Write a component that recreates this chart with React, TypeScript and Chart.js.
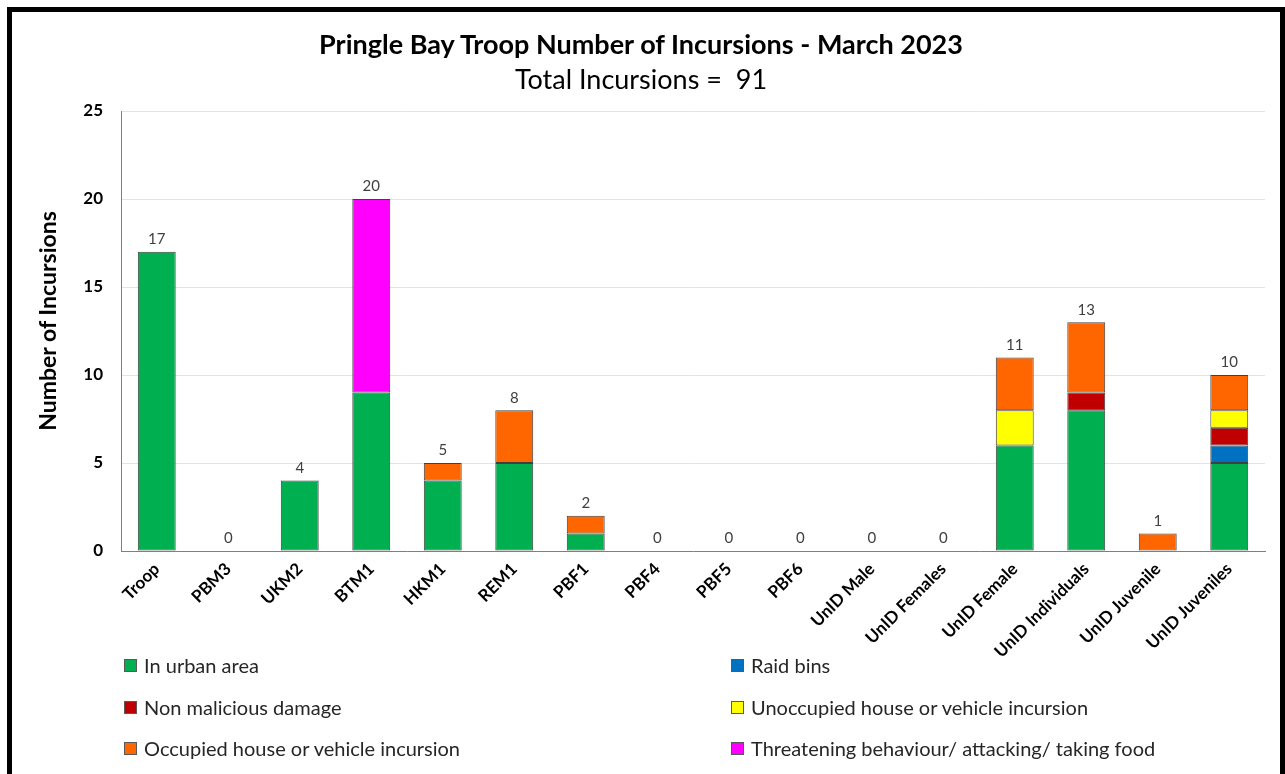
import React, { useEffect, useRef } from "react";
import { Chart, registerables } from "chart.js";

Chart.register(...registerables);

const categories = [
  "Troop", "PBM3", "UKM2", "BTM1", "HKM1", "REM1", "PBF1", "PBF4", "PBF5", "PBF6",
  "UnID Male", "UnID Females", "UnID Female", "UnID Individuals", "UnID Juvenile", "UnID Juveniles",
];
const inUrbanArea = [17, 0, 4, 9, 4, 5, 1, 0, 0, 0, 0, 0, 6, 8, 0, 5];
const raidBins = [0, 0, 0, 0, 0, 0, 0, 0, 0, 0, 0, 0, 0, 0, 0, 1];
const nonMaliciousDamage = [0, 0, 0, 0, 0, 0, 0, 0, 0, 0, 0, 0, 0, 1, 0, 1];
const unoccupiedIncursion = [0, 0, 0, 0, 0, 0, 0, 0, 0, 0, 0, 0, 2, 0, 0, 1];
const occupiedIncursion = [0, 0, 0, 0, 1, 3, 1, 0, 0, 0, 0, 0, 3, 4, 1, 2];
const threatening = [0, 0, 0, 11, 0, 0, 0, 0, 0, 0, 0, 0, 0, 0, 0, 0];

const seriesNames = [
  "In urban area",
  "Raid bins",
  "Non malicious damage",
  "Unoccupied house or vehicle incursion",
  "Occupied house or vehicle incursion",
  "Threatening behaviour/ attacking/ taking food",
];
const seriesData = [inUrbanArea, raidBins, nonMaliciousDamage, unoccupiedIncursion, occupiedIncursion, threatening];
const seriesColors = ["#00B050", "#0070C0", "#C00000", "#FFFF00", "#FF6600", "#FF00FF"];

const titleText = "Pringle Bay Troop Number of Incursions - March 2023";
const subtitleText = "Total Incursions =  91";
const yAxisTitle = "Number of Incursions";
const yMin = 0;
const yMax = 25;
const yStep = 5;

const FONT = "Lato, 'Open Sans', sans-serif";

const totalsPlugin = {
  id: "totalsLabels",
  afterDatasetsDraw(chart: any) {
    const { ctx, scales } = chart;
    ctx.save();
    ctx.font = `15px ${FONT}`;
    ctx.fillStyle = "#404040";
    ctx.textAlign = "center";
    ctx.textBaseline = "bottom";
    categories.forEach((_, i) => {
      const total = seriesData.reduce((s, arr) => s + arr[i], 0);
      const x = scales.x.getPixelForValue(i);
      const y = scales.y.getPixelForValue(total);
      ctx.fillText(String(total), x, y - 5);
    });
    ctx.restore();
  },
};

export default function App() {
  const ref = useRef<HTMLCanvasElement>(null);

  useEffect(() => {
    if (!ref.current) return;
    const chart = new Chart(ref.current, {
      type: "bar",
      data: {
        labels: categories,
        datasets: seriesNames.map((name, k) => ({
          label: name,
          data: seriesData[k].map((v) => (v === 0 ? null : v)),
          backgroundColor: seriesColors[k],
          borderColor: "#404040",
          borderWidth: 1,
          borderSkipped: false,
          barPercentage: 0.53,
          categoryPercentage: 1,
        })),
      },
      options: {
        responsive: false,
        animation: false,
        layout: { padding: { left: 0, right: 15, top: 99, bottom: 0 } },
        plugins: {
          legend: { display: false },
          title: { display: false },
          tooltip: { enabled: false },
        },
        scales: {
          x: {
            stacked: true,
            grid: { display: false, drawTicks: false },
            border: { display: true, color: "#7f7f7f", width: 1 },
            ticks: {
              autoSkip: false,
              maxRotation: 45,
              minRotation: 45,
              padding: 8,
              color: "#000000",
              font: { family: FONT, size: 17, weight: "bold" },
            },
            afterFit(scale: any) {
              scale.height = 223;
            },
          },
          y: {
            stacked: true,
            min: yMin,
            max: yMax,
            ticks: {
              stepSize: yStep,
              padding: 18,
              color: "#000000",
              font: { family: FONT, size: 17, weight: "bold" },
            },
            grid: { color: "#e3e3e3", drawTicks: false },
            border: { display: true, color: "#7f7f7f", width: 1 },
            title: { display: false },
            afterFit(scale: any) {
              scale.width = 109;
            },
          },
        },
      },
      plugins: [totalsPlugin],
    });
    return () => chart.destroy();
  }, []);

  const legendRow = (k: number, left: number, top: number) => (
    <div
      key={k}
      style={{
        position: "absolute",
        left,
        top: top - 13,
        height: 26,
        display: "flex",
        alignItems: "center",
        whiteSpace: "nowrap",
        fontFamily: FONT,
        fontSize: 20,
        color: "#262626",
      }}
    >
      <span
        style={{
          display: "inline-block",
          width: 11,
          height: 11,
          background: seriesColors[k],
          border: "1px solid #595959",
          marginRight: 7,
        }}
      />
      {seriesNames[k]}
    </div>
  );

  const rowsY = [653, 695, 736];

  return (
    <div
      style={{
        position: "fixed",
        left: 7,
        top: 7,
        width: 1278,
        height: 800,
        border: "5px solid #000",
        boxSizing: "border-box",
        background: "#fff",
        overflow: "hidden",
      }}
    >
      <canvas ref={ref} width={1268} height={762} style={{ position: "absolute", left: 0, top: 0 }} />
      <div
        style={{
          position: "absolute",
          left: 0,
          width: 1258,
          top: 16,
          textAlign: "center",
          fontFamily: FONT,
          fontWeight: "bold",
          fontSize: 27,
          lineHeight: "32px",
          color: "#000",
          whiteSpace: "nowrap",
        }}
      >
        {titleText}
      </div>
      <div
        style={{
          position: "absolute",
          left: 0,
          width: 1258,
          top: 51,
          textAlign: "center",
          fontFamily: FONT,
          fontSize: 27,
          lineHeight: "32px",
          color: "#000",
          whiteSpace: "pre",
        }}
      >
        {subtitleText}
      </div>
      <div
        style={{
          position: "absolute",
          left: 35 - 150,
          top: 309 - 15,
          width: 300,
          height: 30,
          lineHeight: "30px",
          textAlign: "center",
          transform: "rotate(-90deg)",
          fontFamily: FONT,
          fontWeight: "bold",
          fontSize: 23,
          color: "#000",
          whiteSpace: "nowrap",
        }}
      >
        {yAxisTitle}
      </div>
      {legendRow(0, 112, rowsY[0])}
      {legendRow(1, 719, rowsY[0])}
      {legendRow(2, 112, rowsY[1])}
      {legendRow(3, 719, rowsY[1])}
      {legendRow(4, 112, rowsY[2])}
      {legendRow(5, 719, rowsY[2])}
    </div>
  );
}
